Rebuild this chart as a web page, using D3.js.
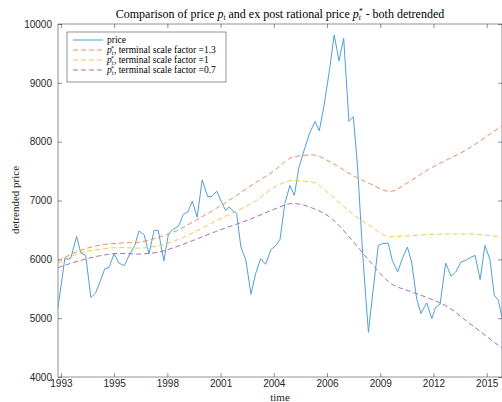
<!DOCTYPE html>
<html>
<head>
<meta charset="utf-8">
<script src="https://cdn.jsdelivr.net/npm/d3@7"></script>
<style>
  body { margin: 0; background: #fff; }
  svg { display: block; }
  .tick text { font-family: "Liberation Sans", Arial, sans-serif; font-size: 10px; fill: #262626; }
</style>
</head>
<body>
<script>
// quarterly detrended price (year, value)
const priceYears = [1992.85, 1993.21, 1993.35, 1993.52, 1993.81, 1994.03, 1994.28, 1994.55, 1994.79, 1995.02,
  1995.27, 1995.48, 1995.75, 1996.00, 1996.27, 1996.57, 1996.82, 1997.03, 1997.30, 1997.55,
  1997.82, 1998.03, 1998.32, 1998.55, 1998.72, 1998.93, 1999.10, 1999.32, 1999.55, 1999.79,
  2000.04, 2000.30, 2000.58, 2000.79, 2001.05, 2001.30, 2001.51, 2001.68, 2002.08, 2002.30,
  2002.56, 2002.82, 2003.06, 2003.32, 2003.58, 2003.85, 2004.11, 2004.32, 2004.57, 2004.83,
  2005.06, 2005.30, 2005.61, 2005.87, 2006.13, 2006.35, 2006.61, 2006.87, 2007.12, 2007.37,
  2007.61, 2007.88, 2008.11, 2008.33, 2008.57, 2008.75, 2008.89, 2009.09, 2009.23, 2009.40,
  2009.60, 2009.91, 2010.12, 2010.40, 2010.64, 2010.90, 2011.12, 2011.38, 2011.60, 2011.90,
  2012.16, 2012.36, 2012.59, 2012.88, 2013.16, 2013.40, 2013.67, 2013.91, 2014.14, 2014.40,
  2014.66, 2014.91, 2015.17, 2015.39, 2015.60, 2015.79];
const priceValues = [5181, 6029, 5995, 6029, 6390, 6107, 6068, 5350, 5429, 5615,
  5842, 5859, 6096, 5937, 5893, 6096, 6237, 6480, 6418, 6096,
  6492, 6492, 5971, 6420, 6492, 6537, 6576, 6763, 6802, 6988,
  6717, 7351, 7068, 7068, 7158, 6971, 6830, 6887, 6774, 6209,
  5983, 5407, 5757, 6012, 5915, 6164, 6237, 6340, 6944, 7254,
  7085, 7564, 7903, 8158, 8344, 8186, 8639, 9203, 9814, 9373,
  9758, 8344, 8424, 7564, 6208, 5361, 4760, 5361, 5757, 6237,
  6266, 6277, 5983, 5785, 6012, 6209, 5955, 5333, 5080, 5260,
  4994, 5181, 5237, 5937, 5712, 5785, 5955, 5983, 6029, 6068,
  5656, 6237, 5994, 5390, 5305, 5010];

// ex post rational price curves
const rationalYears = [1992.85, 1994, 1995, 1996, 1997, 1998, 1999, 2000, 2001, 2002, 2003, 2004,
  2005, 2006, 2007, 2008, 2009, 2010, 2011, 2012, 2013, 2014, 2015, 2015.79];
const scale13 = [5975, 6150, 6240, 6275, 6290, 6370, 6490, 6670, 6860, 7070, 7290, 7500,
  7740, 7775, 7640, 7440, 7280, 7155, 7320, 7530, 7700, 7870, 8090, 8270];
const scale10 = [5930, 6110, 6170, 6200, 6190, 6230, 6330, 6480, 6650, 6810, 6980, 7220,
  7340, 7310, 7075, 6790, 6560, 6385, 6400, 6420, 6430, 6430, 6410, 6380];
const scale07 = [5860, 5980, 6060, 6100, 6090, 6120, 6218, 6343, 6473, 6590, 6710, 6850,
  6950, 6870, 6690, 6340, 5950, 5600, 5460, 5340, 5190, 4940, 4690, 4490];

const xTicks = [1993, 1995.75, 1998.5, 2001.25, 2004, 2006.75, 2009.5, 2012.25, 2015];
const yTicks = [4000, 5000, 6000, 7000, 8000, 9000, 10000];
const legendFactors = ["1.3", "1", "0.7"];

const w = 502, h = 402;
const plotLeft = 58, plotRight = 502, plotTop = 24, plotBottom = 377;
const axisColor = "#262626";
const serif = "'Liberation Serif', 'DejaVu Serif', serif";

const svg = d3.select("body").append("svg").attr("width", w).attr("height", h);

const x = d3.scaleLinear().domain([1992.85, 2015.79]).range([plotLeft, plotRight]);
const y = d3.scaleLinear().domain([4000, 10000]).range([plotBottom, plotTop]);

// box
svg.append("rect")
  .attr("x", plotLeft).attr("y", plotTop)
  .attr("width", plotRight - plotLeft).attr("height", plotBottom - plotTop)
  .attr("fill", "none").attr("stroke", axisColor).attr("stroke-width", 0.5);

const xAxis = svg.append("g")
  .attr("transform", "translate(0," + plotBottom + ")")
  .call(d3.axisBottom(x).tickValues(xTicks).tickSize(-4).tickPadding(3).tickFormat(d => Math.floor(d)));
const xTop = svg.append("g")
  .attr("transform", "translate(0," + plotTop + ")")
  .call(d3.axisTop(x).tickValues(xTicks).tickSize(-4).tickFormat(""));
const yAxis = svg.append("g")
  .attr("transform", "translate(" + plotLeft + ",0)")
  .call(d3.axisLeft(y).tickValues(yTicks).tickSize(-4).tickPadding(6).tickFormat(d3.format("d")));
const yRight = svg.append("g")
  .attr("transform", "translate(" + plotRight + ",0)")
  .call(d3.axisRight(y).tickValues(yTicks).tickSize(-4).tickFormat(""));

[xAxis, xTop, yAxis, yRight].forEach(g => {
  g.select(".domain").remove();
  g.selectAll(".tick line").attr("stroke", axisColor).attr("stroke-width", 0.5);
});

const line = d3.line().x(d => x(d[0])).y(d => y(d[1]));
const smooth = d3.line().x(d => x(d[0])).y(d => y(d[1])).curve(d3.curveMonotoneX);

const series = [
  { values: scale13, color: "#e58e68" },
  { values: scale10, color: "#f2c55a" },
  { values: scale07, color: "#a46fb4" }
];

svg.append("path")
  .datum(priceYears.map((d, i) => [d, priceValues[i]]))
  .attr("d", line)
  .attr("fill", "none")
  .attr("stroke", "#4f9fd8")
  .attr("stroke-width", 1);

series.forEach(s => {
  svg.append("path")
    .datum(rationalYears.map((d, i) => [d, s.values[i]]))
    .attr("d", smooth)
    .attr("fill", "none")
    .attr("stroke", s.color)
    .attr("stroke-width", 1)
    .attr("stroke-dasharray", "5,3");
});

// title with math
const title = svg.append("text")
  .attr("x", 280).attr("y", 18)
  .attr("text-anchor", "middle")
  .style("font-family", serif).style("font-size", "12px").style("fill", "#000");
title.append("tspan").text("Comparison of price ");
title.append("tspan").style("font-style", "italic").text("p");
title.append("tspan").attr("dy", 2).style("font-size", "7.5px").style("font-style", "italic").text("t");
title.append("tspan").attr("dy", -2).text(" and ex post rational price ");
title.append("tspan").style("font-style", "italic").text("p");
title.append("tspan").attr("dy", 2).style("font-size", "7.5px").style("font-style", "italic").text("t");
title.append("tspan").attr("dx", -2).attr("dy", -6).style("font-size", "7.5px").text("*");
title.append("tspan").attr("dy", 4).text(" - both detrended");

// axis labels
svg.append("text")
  .attr("x", 280).attr("y", 401)
  .attr("text-anchor", "middle")
  .style("font-family", serif).style("font-size", "11px").style("fill", "#262626")
  .text("time");
svg.append("text")
  .attr("transform", "translate(19,200) rotate(-90)")
  .attr("text-anchor", "middle")
  .style("font-family", serif).style("font-size", "11px").style("fill", "#262626")
  .text("detrended price");

// legend
const legend = svg.append("g").attr("transform", "translate(67,32)");
legend.append("rect")
  .attr("width", 159).attr("height", 50)
  .attr("fill", "#fff").attr("stroke", axisColor).attr("stroke-width", 0.5);

legend.append("line")
  .attr("x1", 6).attr("x2", 36).attr("y1", 8).attr("y2", 8)
  .attr("stroke", "#4f9fd8").attr("stroke-width", 1);
legend.append("text")
  .attr("x", 40).attr("y", 11)
  .style("font-family", serif).style("font-size", "9.5px")
  .text("price");

series.forEach((s, i) => {
  const ly = 18 + i * 10;
  legend.append("line")
    .attr("x1", 6).attr("x2", 36).attr("y1", ly).attr("y2", ly)
    .attr("stroke", s.color).attr("stroke-width", 1).attr("stroke-dasharray", "5,3");
  const t = legend.append("text")
    .attr("x", 40).attr("y", ly + 3)
    .style("font-family", serif).style("font-size", "9.5px");
  t.append("tspan").style("font-style", "italic").text("p");
  t.append("tspan").attr("dy", 2).style("font-size", "6px").style("font-style", "italic").text("t");
  t.append("tspan").attr("dx", -2.5).attr("dy", -5).style("font-size", "6px").text("*");
  t.append("tspan").attr("dy", 3).text(", terminal scale factor =" + legendFactors[i]);
});
</script>
</body>
</html>
